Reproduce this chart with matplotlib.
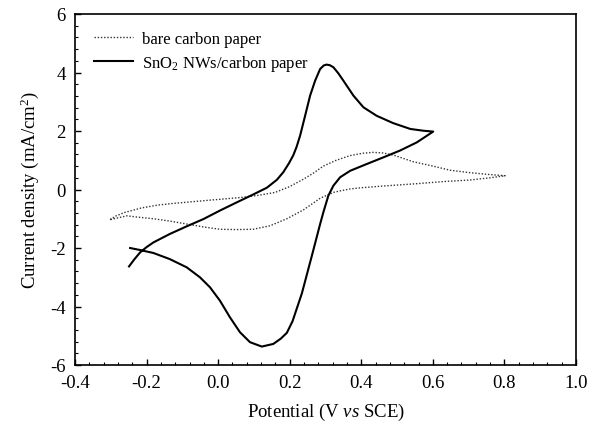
import matplotlib
matplotlib.use("Agg")
import matplotlib.pyplot as plt
from matplotlib.ticker import MultipleLocator, FormatStrFormatter

plt.rcParams['font.family'] = ['Liberation Serif', 'DejaVu Serif']
plt.rcParams['mathtext.fontset'] = 'custom'
plt.rcParams['mathtext.rm'] = 'Liberation Serif'
plt.rcParams['mathtext.it'] = 'Liberation Serif:italic'
plt.rcParams['axes.unicode_minus'] = False

# SnO2 NWs / carbon paper: anodic sweep then cathodic sweep
sno2_v = [-0.249, -0.235, -0.218, -0.200, -0.181, -0.135, -0.088, -0.041, 0.005, 0.052,
          0.098, 0.136, 0.164, 0.182, 0.198, 0.210, 0.219, 0.229, 0.243, 0.257,
          0.271, 0.285, 0.295, 0.303, 0.312, 0.322, 0.336, 0.350, 0.378, 0.406,
          0.443, 0.489, 0.537, 0.573, 0.601,
          0.555, 0.508, 0.462, 0.415, 0.369, 0.341, 0.322, 0.308, 0.294, 0.285,
          0.262, 0.234, 0.208, 0.192, 0.175, 0.154, 0.122, 0.089, 0.061, 0.033,
          0.005, -0.023, -0.051, -0.088, -0.135, -0.181, -0.218, -0.246]
sno2_j = [-2.63, -2.40, -2.15, -1.97, -1.81, -1.52, -1.26, -1.01, -0.72, -0.44,
          -0.17, 0.06, 0.33, 0.59, 0.90, 1.17, 1.45, 1.84, 2.52, 3.21,
          3.72, 4.12, 4.24, 4.27, 4.25, 4.18, 3.97, 3.72, 3.21, 2.81,
          2.52, 2.27, 2.07, 2.01, 1.98,
          1.61, 1.33, 1.10, 0.87, 0.64, 0.42, 0.13, -0.21, -0.78, -1.18,
          -2.26, -3.55, -4.50, -4.90, -5.10, -5.28, -5.37, -5.22, -4.88, -4.37,
          -3.80, -3.34, -3.00, -2.66, -2.38, -2.17, -2.07, -2.00]

# bare carbon paper
bare_v = [-0.302, -0.285, -0.260, -0.214, -0.167, -0.121, -0.074, -0.028, 0.019, 0.066,
          0.112, 0.159, 0.200, 0.238, 0.265, 0.294, 0.330, 0.369, 0.405, 0.433,
          0.460, 0.489, 0.545, 0.600, 0.648, 0.700, 0.750, 0.802,
          0.760, 0.700, 0.640, 0.545, 0.462, 0.400, 0.369, 0.340, 0.322, 0.285,
          0.238, 0.192, 0.145, 0.098, 0.052, 0.005, -0.041, -0.088, -0.135, -0.181,
          -0.228, -0.255, -0.302]
bare_j = [-1.03, -0.90, -0.78, -0.63, -0.53, -0.47, -0.42, -0.37, -0.32, -0.27,
          -0.20, -0.10, 0.10, 0.35, 0.55, 0.80, 1.00, 1.16, 1.24, 1.27,
          1.25, 1.18, 0.95, 0.80, 0.66, 0.58, 0.52, 0.47,
          0.40, 0.32, 0.28, 0.19, 0.12, 0.06, 0.02, -0.05, -0.10, -0.30,
          -0.70, -1.00, -1.24, -1.36, -1.37, -1.36, -1.28, -1.18, -1.08, -1.00,
          -0.94, -0.90, -1.03]

fig = plt.figure(figsize=(5.89, 4.31), dpi=100)
ax = fig.add_axes([75/589, 1-366/431, 501/589, 351/431])

ax.plot(bare_v, bare_j, color='#333333', lw=1.0, linestyle=(0, (1, 1.3)),
        label='bare carbon paper')
ax.plot(sno2_v, sno2_j, color='black', lw=1.5, label='SnO$_2$ NWs/carbon paper')

ax.set_xlim(-0.4, 1.0)
ax.set_ylim(-6, 6)
ax.xaxis.set_major_locator(MultipleLocator(0.2))
ax.xaxis.set_minor_locator(MultipleLocator(0.04))
ax.yaxis.set_major_locator(MultipleLocator(2))
ax.yaxis.set_minor_locator(MultipleLocator(0.4))
ax.xaxis.set_major_formatter(FormatStrFormatter('%.1f'))
ax.yaxis.set_major_formatter(FormatStrFormatter('%d'))
ax.tick_params(which='both', direction='in', top=False, right=False, labelsize=13.5)
ax.tick_params(which='major', length=4.5, width=1.0)
ax.tick_params(which='minor', length=2.5, width=0.8)
ax.tick_params(axis='x', which='major', pad=6.5)
ax.tick_params(axis='y', which='major', pad=6.5)
for s in ax.spines.values():
    s.set_linewidth(1.2)

ax.set_xlabel(r'Potential (V $\mathit{vs}$ SCE)', fontsize=13.5, labelpad=7)
ax.set_ylabel('Current density (mA/cm$^2$)', fontsize=13.5, labelpad=7)

ax.legend(loc='upper left', bbox_to_anchor=(0.008, 0.995), frameon=False, fontsize=12,
          handlelength=2.35, handletextpad=0.5, labelspacing=0.35)

fig.savefig('out.png', dpi=100)
